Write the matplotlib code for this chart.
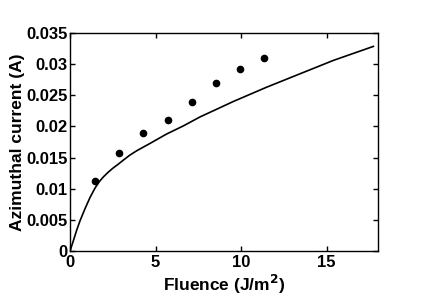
import matplotlib
matplotlib.use("Agg")
import matplotlib.pyplot as plt

plt.rcParams['font.family'] = ['Liberation Sans', 'DejaVu Sans']
plt.rcParams['font.weight'] = 'bold'
plt.rcParams['mathtext.default'] = 'bf'

# Measured data points
fluence_pts = [1.46, 2.86, 4.28, 5.71, 7.11, 8.53, 9.94, 11.36]
current_pts = [0.01122, 0.01573, 0.01895, 0.0210, 0.0239, 0.02696, 0.02926, 0.03098]

# Model curve
fluence_curve = [0.0, 0.195, 0.39, 0.584, 0.877, 1.17, 1.46, 1.7, 1.95, 2.25, 2.53,
                 2.8, 3.12, 3.5, 3.9, 4.68, 5.65, 6.62, 7.6, 8.6, 9.54, 11.5,
                 13.44, 15.39, 17.73]
current_curve = [0.0, 0.00165, 0.00335, 0.00485, 0.0068, 0.0086, 0.0101, 0.0111,
                 0.0119, 0.0127, 0.01335, 0.0139, 0.0146, 0.0154, 0.0161, 0.01728,
                 0.01879, 0.02008, 0.02153, 0.0228, 0.024, 0.02631, 0.02845,
                 0.0306, 0.03285]

x_ticks = [0, 5, 10, 15]
y_ticks = [0, 0.005, 0.01, 0.015, 0.02, 0.025, 0.03, 0.035]
y_tick_labels = ['0', '0.005', '0.01', '0.015', '0.02', '0.025', '0.03', '0.035']

fig = plt.figure(figsize=(4.36, 2.96), dpi=100)
ax = fig.add_axes([0.1606, 0.152, 0.7064, 0.7365])

ax.plot(fluence_curve, current_curve, color='black', linewidth=1.2)
ax.plot(fluence_pts, current_pts, 'o', color='black', markersize=4.5)

ax.set_xlim(0, 18)
ax.set_ylim(0, 0.035)
ax.set_xticks(x_ticks)
ax.set_xticklabels([str(t) for t in x_ticks])
ax.set_yticks(y_ticks)
ax.set_yticklabels(y_tick_labels)
ax.tick_params(direction='in', top=True, right=True, length=3.6, width=1,
               labelsize=12)
ax.tick_params(axis='x', pad=3)
ax.tick_params(axis='y', pad=1.5)
for lab in ax.get_xticklabels() + ax.get_yticklabels():
    lab.set_fontweight('bold')
for s in ax.spines.values():
    s.set_linewidth(1)

ax.set_xlabel('Fluence (J/m$^2$)', fontsize=12.5, fontweight='bold', labelpad=2)
ax.set_ylabel('Azimuthal current (A)', fontsize=12.5, fontweight='bold', labelpad=1)

fig.savefig('out.png', dpi=100)
